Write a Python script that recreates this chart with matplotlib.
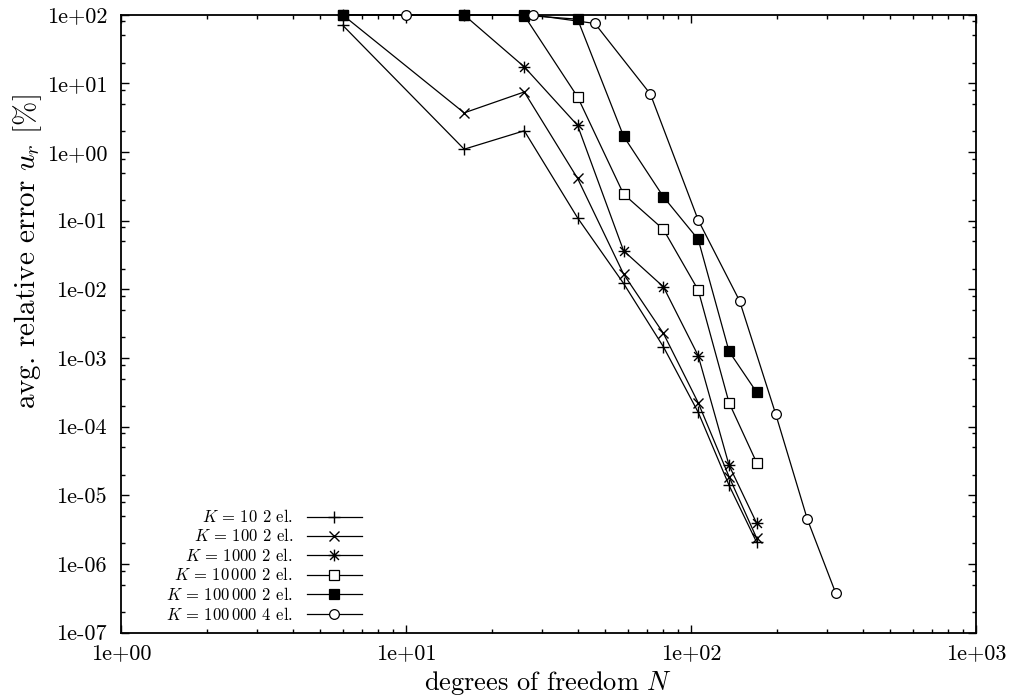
import numpy as np
import matplotlib
matplotlib.use("Agg")
import matplotlib.pyplot as plt
from matplotlib.path import Path
from matplotlib.lines import Line2D
from matplotlib.ticker import FixedLocator, LogLocator, NullFormatter, FuncFormatter

# Degrees of freedom for the 2-element and 4-element meshes
dof_2el = [6, 16, 26, 40, 58, 80, 106, 136, 170]
dof_4el = [10, 28, 46, 72, 106, 148, 198, 256, 322]

# Average relative error u_r [%]
err_k10_2el = [70, 1.10, 2.04, 0.110, 0.0122, 0.00146, 1.62e-4, 1.40e-5, 2.07e-6]
err_k100_2el = [99, 3.72, 7.5, 0.413, 0.0167, 0.00229, 2.23e-4, 1.87e-5, 2.38e-6]
err_k1000_2el = [100, 99, 17.4, 2.44, 0.0365, 0.0109, 0.00108, 2.74e-5, 3.93e-6]
err_k10000_2el = [100, 100, 97, 6.36, 0.244, 0.0747, 0.00977, 2.23e-4, 2.99e-5]
err_k100000_2el = [100, 100, 98, 86, 1.70, 0.223, 0.0534, 0.00125, 3.17e-4]
err_k100000_4el = [100, 99, 74.5, 7.0, 0.102, 0.00683, 1.55e-4, 4.49e-6, 3.76e-7]

legend_labels = [
    r"$K\,=\,10$ 2 el.",
    r"$K\,=\,100$ 2 el.",
    r"$K\,=\,1000$ 2 el.",
    r"$K\,=\,10\,000$ 2 el.",
    r"$K\,=\,100\,000$ 2 el.",
    r"$K\,=\,100\,000$ 4 el.",
]

x_exponents = [0, 1, 2, 3]
y_exponents = [-7, -6, -5, -4, -3, -2, -1, 0, 1, 2]

plt.rcParams.update({
    "font.family": "serif",
    "font.serif": ["cmr10"],
    "mathtext.fontset": "cm",
    "axes.unicode_minus": False,
    "axes.formatter.use_mathtext": True,
})

# gnuplot-style star: a plus and a cross on top of each other
star_path = Path(
    [(-1, 0), (1, 0), (0, -1), (0, 1),
     (-0.75, -0.75), (0.75, 0.75), (-0.75, 0.75), (0.75, -0.75)],
    [Path.MOVETO, Path.LINETO] * 4,
)

styles = [
    dict(marker="+", ms=8, mew=1.0, mfc="black"),
    dict(marker="x", ms=7, mew=1.0, mfc="black"),
    dict(marker=star_path, ms=8.5, mew=1.0, mfc="black"),
    dict(marker="s", ms=6.5, mew=0.9, mfc="white"),
    dict(marker="s", ms=6.5, mew=0.9, mfc="black"),
    dict(marker="o", ms=7, mew=0.9, mfc="white"),
]
series = [
    (dof_2el, err_k10_2el),
    (dof_2el, err_k100_2el),
    (dof_2el, err_k1000_2el),
    (dof_2el, err_k10000_2el),
    (dof_2el, err_k100000_2el),
    (dof_4el, err_k100000_4el),
]

fig = plt.figure(figsize=(10.09, 6.97), dpi=100)
ax = fig.add_axes([121 / 1009, 1 - 632.7 / 697, 855 / 1009, 618 / 697])

for (x, y), st in zip(series, styles):
    ax.plot(x, y, color="black", lw=0.9, mec="black", clip_on=False, zorder=3, **st)

ax.set_xscale("log")
ax.set_yscale("log")
ax.set_xlim(1, 1e3)
ax.set_ylim(1e-7, 1e2)

ax.xaxis.set_major_locator(FixedLocator([10.0 ** e for e in x_exponents]))
ax.yaxis.set_major_locator(FixedLocator([10.0 ** e for e in y_exponents]))
fmt = FuncFormatter(lambda v, p: "1e{:+03d}".format(int(round(np.log10(v)))))
ax.xaxis.set_major_formatter(fmt)
ax.yaxis.set_major_formatter(fmt)
ax.xaxis.set_minor_locator(LogLocator(base=10, subs=np.arange(2, 10), numticks=50))
ax.yaxis.set_minor_locator(LogLocator(base=10, subs=(2, 5, 8), numticks=50))
ax.xaxis.set_minor_formatter(NullFormatter())
ax.yaxis.set_minor_formatter(NullFormatter())

ax.tick_params(which="both", direction="in", top=True, right=True, width=1.0)
ax.tick_params(which="major", length=6)
ax.tick_params(which="minor", length=3)
ax.tick_params(axis="x", which="major", pad=8, labelsize=16)
ax.tick_params(axis="y", which="major", pad=10, labelsize=16)
for s in ax.spines.values():
    s.set_linewidth(1.3)

ax.set_xlabel(r"degrees of freedom $N$", fontsize=19, labelpad=4)
ax.set_ylabel(r"avg. relative error $u_r$ [%]", fontsize=21, va="center")
ax.yaxis.set_label_coords(-0.1088, 0.616)

# Key: right-aligned labels followed by a line sample with its marker
row_y = [0.1877, 0.1565, 0.1257, 0.0934, 0.0621, 0.0298]
for lbl, st, yy in zip(legend_labels, styles, row_y):
    ax.text(0.2012, yy, lbl, transform=ax.transAxes, ha="right", va="center", fontsize=12)
    ax.add_line(Line2D([0.2172, 0.2815], [yy, yy], transform=ax.transAxes,
                       color="black", lw=0.9, clip_on=False))
    ax.add_line(Line2D([0.249], [yy], transform=ax.transAxes, color="black",
                       lw=0, mec="black", clip_on=False, **st))

fig.savefig("out.png", dpi=100)
